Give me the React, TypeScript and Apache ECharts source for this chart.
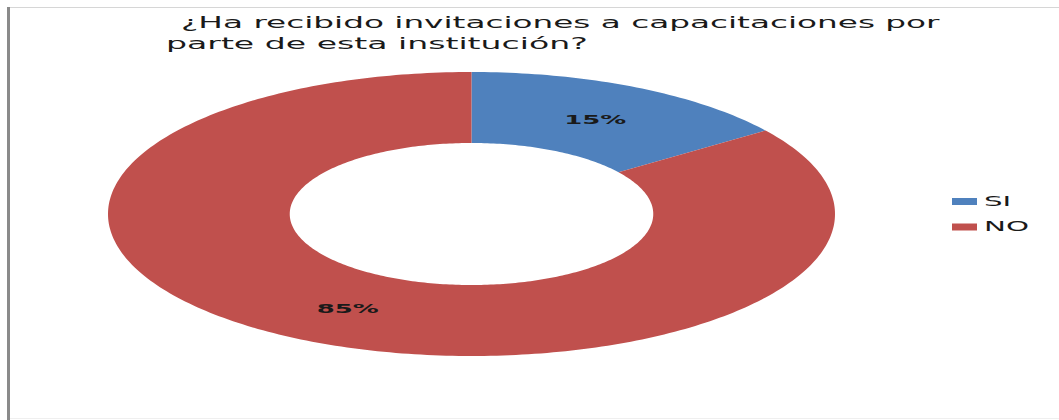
import { useEffect, useRef } from "react";
import * as echarts from "echarts";

// Survey answers and their shares (percent)
const categories = ["SI", "NO"];
const values = [15, 85];
const sliceColors = ["#4F81BD", "#C0504D"];
const titleLines = [
  "¿Ha recibido invitaciones a capacitaciones por",
  "parte de esta institución?",
];

const FONT = "DejaVu Sans";
const TEXT_COLOR = "#1a1a1a";

// Width of a string in the given font, used to stretch texts horizontally
function measure(text: string, size: number, weight = "normal"): number {
  const ctx = document.createElement("canvas").getContext("2d");
  if (!ctx) return text.length * size * 0.6;
  ctx.font = `${weight} ${size}px "${FONT}"`;
  return ctx.measureText(text).width;
}

export default function App() {
  const ref = useRef<HTMLDivElement>(null);

  useEffect(() => {
    document.body.style.margin = "0";
    if (!ref.current) return;
    const chart = echarts.init(ref.current, undefined, { renderer: "svg" });

    const total = values.reduce((a, b) => a + b, 0);
    const starts: number[] = [];
    values.reduce((acc, v) => {
      starts.push(acc);
      return acc + v;
    }, 0);
    const data = values.map((v, i) => ({
      name: categories[i],
      value: [starts[i], v],
    }));

    const titleSize = 15;
    const titleScale1 = 759 / measure(titleLines[0], titleSize);
    const titleScale2 = 422 / measure(titleLines[1], titleSize);
    const labelSize = 13;
    const labelWeight = "bold";
    const labelScale = 62 / measure("85%", labelSize, labelWeight);
    const legendSize = 14;
    const legendScale = 45 / measure("NO", legendSize);

    const outerR = 1;
    const innerR = 0.5;

    const option: echarts.EChartsOption = {
      animation: false,
      backgroundColor: "#ffffff",
      grid: { left: 108, top: 72, width: 727, height: 284 },
      xAxis: { type: "value", min: -1, max: 1, show: false },
      yAxis: { type: "value", min: -1, max: 1, show: false },
      series: [
        {
          type: "custom",
          coordinateSystem: "cartesian2d",
          data,
          encode: { x: 0, y: 1 },
          renderItem: (params: any, api: any) => {
            const start = api.value(0) as number;
            const v = api.value(1) as number;
            const a0 = (start / total) * Math.PI * 2;
            const a1 = ((start + v) / total) * Math.PI * 2;
            const steps = Math.max(2, Math.ceil(((a1 - a0) * 180) / Math.PI));
            const pts: number[][] = [];
            for (let i = 0; i <= steps; i++) {
              const t = a0 + ((a1 - a0) * i) / steps;
              pts.push(api.coord([outerR * Math.sin(t), outerR * Math.cos(t)]));
            }
            for (let i = steps; i >= 0; i--) {
              const t = a0 + ((a1 - a0) * i) / steps;
              pts.push(api.coord([innerR * Math.sin(t), innerR * Math.cos(t)]));
            }
            const mid = (a0 + a1) / 2;
            const rm = (outerR + innerR) / 2;
            const [lx, ly] = api.coord([rm * Math.sin(mid), rm * Math.cos(mid)]);
            const pct = Math.round((v / total) * 100);
            return {
              type: "group",
              children: [
                {
                  type: "polygon",
                  shape: { points: pts },
                  style: { fill: sliceColors[params.dataIndex] },
                },
                {
                  type: "text",
                  x: lx,
                  y: ly,
                  scaleX: labelScale,
                  style: {
                    x: 0,
                    y: 0,
                    text: `${pct}%`,
                    fill: TEXT_COLOR,
                    font: `${labelWeight} ${labelSize}px "${FONT}"`,
                    align: "center",
                    verticalAlign: "middle",
                  },
                },
              ],
            };
          },
        },
      ],
      graphic: [
        // frame of the chart area
        {
          type: "line",
          shape: { x1: 8, y1: 7.5, x2: 1059, y2: 7.5 },
          style: { stroke: "#d6d6d6", lineWidth: 1 },
        },
        {
          type: "line",
          shape: { x1: 8, y1: 418.5, x2: 1059, y2: 418.5 },
          style: { stroke: "#efefef", lineWidth: 1 },
        },
        {
          type: "line",
          shape: { x1: 8.5, y1: 7, x2: 8.5, y2: 420 },
          style: { stroke: "#8a8a8a", lineWidth: 3 },
        },
        // title
        {
          type: "text",
          x: 181,
          y: 23,
          scaleX: titleScale1,
          style: {
            x: 0,
            y: 0,
            text: titleLines[0],
            fill: TEXT_COLOR,
            font: `normal ${titleSize}px "${FONT}"`,
            align: "left",
            verticalAlign: "middle",
          },
        },
        {
          type: "text",
          x: 166,
          y: 44,
          scaleX: titleScale2,
          style: {
            x: 0,
            y: 0,
            text: titleLines[1],
            fill: TEXT_COLOR,
            font: `normal ${titleSize}px "${FONT}"`,
            align: "left",
            verticalAlign: "middle",
          },
        },
        // legend
        ...categories.flatMap((c, i) => [
          {
            type: "rect",
            shape: { x: 952, y: 198 + i * 25.5, width: 25, height: 7 },
            style: { fill: sliceColors[i] },
          },
          {
            type: "text",
            x: 984,
            y: 201 + i * 25.5,
            scaleX: legendScale,
            style: {
              x: 0,
              y: 0,
              text: c,
              fill: TEXT_COLOR,
              font: `normal ${legendSize}px "${FONT}"`,
              align: "left",
              verticalAlign: "middle",
            },
          },
        ]),
      ] as any,
    };

    chart.setOption(option);
    return () => chart.dispose();
  }, []);

  return <div ref={ref} style={{ width: 1059, height: 420 }} />;
}
